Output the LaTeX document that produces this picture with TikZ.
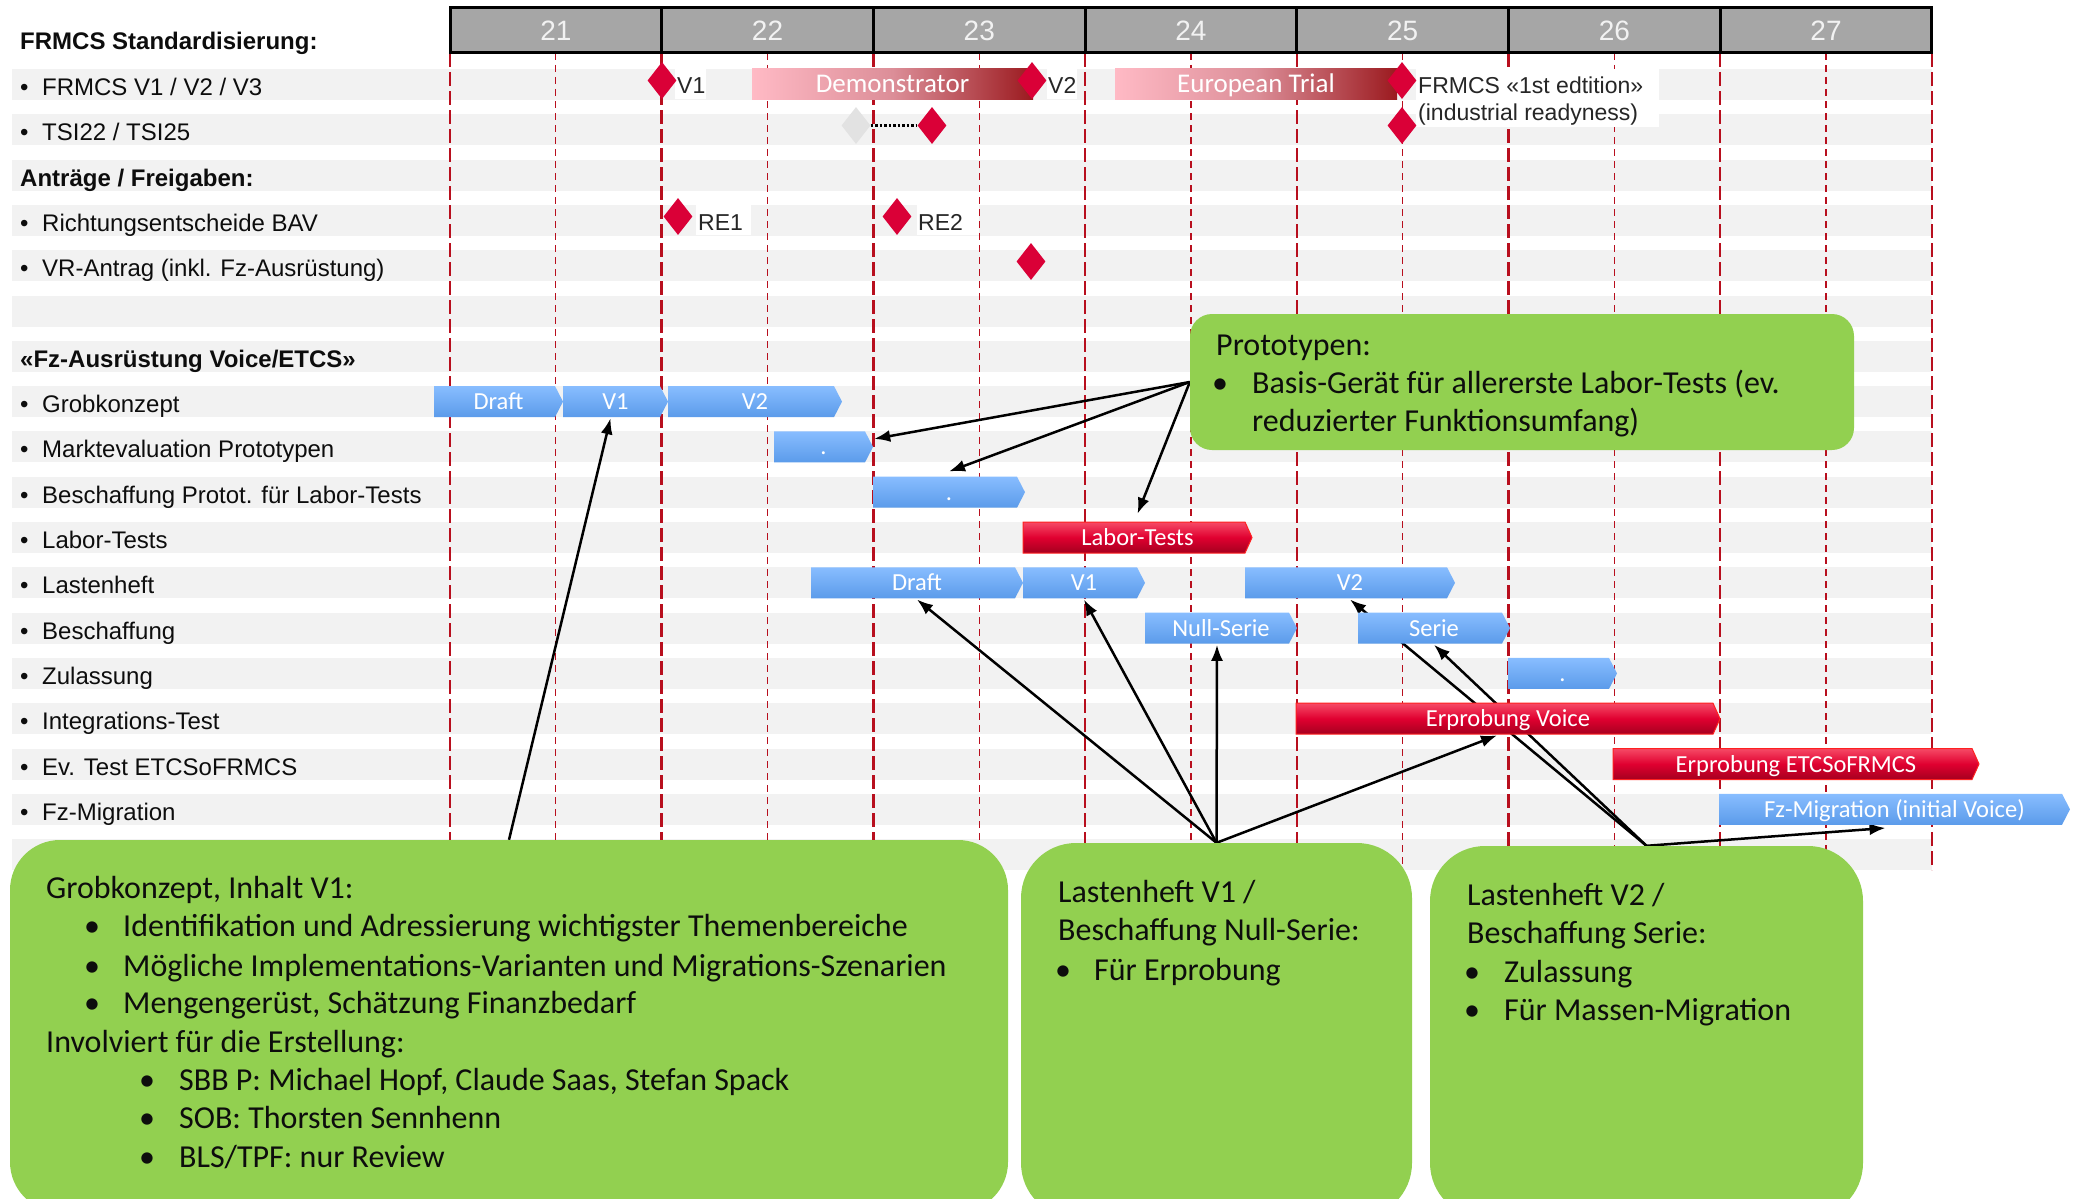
\documentclass[tikz,border=0pt]{standalone}
\usepackage{fontspec}
\setmainfont{Liberation Sans}
\newfontfamily\cfont{Carlito}
\usetikzlibrary{shapes.geometric,arrows.meta,calc}

\definecolor{band}{HTML}{F2F2F2}
\definecolor{hdr}{HTML}{A6A6A6}
\definecolor{hdrtext}{HTML}{F2F2F2}
\definecolor{msred}{HTML}{DA0037}
\definecolor{msgrey}{HTML}{E2E2E2}
\definecolor{yearline}{HTML}{B80F1E}
\definecolor{bluetop}{HTML}{88BDFF}
\definecolor{bluebot}{HTML}{5B9BEA}
\definecolor{redtop}{HTML}{F64A66}
\definecolor{redmid}{HTML}{E00030}
\definecolor{redbot}{HTML}{A5001F}
\definecolor{redrim}{HTML}{FF2020}
\definecolor{pinkl}{HTML}{FFBAC5}
\definecolor{pinkm}{HTML}{DC8E98}
\definecolor{darkr}{HTML}{9B1A1F}
\definecolor{note}{HTML}{92D050}
\definecolor{ink}{HTML}{0D0D0D}
\definecolor{lbl}{HTML}{262626}

\pgfdeclarelayer{base}
\pgfdeclarelayer{links}
\pgfsetlayers{base,links,main}

\tikzset{
  rowlabel/.style={anchor=base west, inner sep=0pt, font=\fontsize{24}{28}\selectfont, text=ink},
  rowtitle/.style={anchor=base west, inner sep=0pt, font=\bfseries\fontsize{24}{28}\selectfont, text=ink},
  mslabel/.style={anchor=base west, inner sep=0pt, font=\fontsize{23}{27}\selectfont, text=lbl},
  hdrcell/.style={draw=black, line width=3pt, fill=hdr, minimum width=211.7pt, minimum height=45pt,
    inner sep=0pt, text height=20pt, text depth=0pt, text=hdrtext, font=\fontsize{28}{32}\selectfont},
  yearthick/.style={draw=yearline, line width=2.5pt, dash pattern=on 14pt off 5pt},
  yearthin/.style={draw=yearline, line width=1.2pt, dash pattern=on 7pt off 5pt},
  bartext/.style={inner sep=0pt, minimum height=31pt, text height=16pt, text depth=0pt,
    text=white, font=\cfont\fontsize{24.5}{28}\selectfont},
  trialtext/.style={bartext, text height=17pt, font=\cfont\fontsize{27}{30}\selectfont},
  bluebar/.style={top color=bluetop, bottom color=bluebot},
  redbar/.style={top color=redtop, bottom color=redbot, middle color=redmid, draw=redrim, line width=1pt},
  trialbar/.style={left color=pinkl, right color=darkr, middle color=pinkm},
  milestone/.style={diamond, fill=#1, inner sep=0pt, minimum width=29pt, minimum height=37pt},
  milestone/.default=msred,
  notebox/.style={fill=note, draw=none},
  notetext/.style={anchor=base west, inner sep=0pt, font=\cfont\fontsize{32}{38}\selectfont, text=ink},
  notebullet/.style={anchor=base, inner sep=0pt, font=\cfont\fontsize{32}{38}\selectfont, text=ink},
  conn/.style={draw=black, line width=2.5pt, -{Latex[length=16pt,width=12pt]}},
}

% pentagon bar: style, name, left x, right x, top y, point depth, text
\newcommand\pbar[7]{%
  \path[#1] (#3,#5) -- ({#4-#6},#5) -- (#4,{#5+15.5}) -- ({#4-#6},{#5+31}) -- (#3,{#5+31}) -- cycle;
  \node[bartext, minimum width={#4-#3}] (#2) at ({(#3+#4)/2},{#5+15.5}) {#7};
}

\begin{document}
\begin{tikzpicture}[x=1pt,y=-1pt]
\useasboundingbox (0,0) rectangle (2078,1199);
\clip (0,0) rectangle (2078,1199);

\begin{pgfonlayer}{base}
% row bands
\foreach \i in {0,...,17}
  \fill[band] (12,{69+45.3*\i}) rectangle (1932,{100+45.3*\i});
% year and half-year lines
\foreach \k in {0,...,7}
  \draw[yearthick] ({450+211.7*\k},53) -- ({450+211.7*\k},870);
\foreach \k in {0,...,6}
  \draw[yearthin] ({555.85+211.7*\k},53) -- ({555.85+211.7*\k},870);
% year header
\foreach \k/\yr in {0/21,1/22,2/23,3/24,4/25,5/26,6/27}
  \node[hdrcell] (yr\yr) at ({555.85+211.7*\k},30.5) {\yr};
\end{pgfonlayer}

% row labels
\node[rowtitle] (t1) at (20,50) {FRMCS Standardisierung:};
\node[rowlabel] (r0) at (20,95.5) {\makebox[22pt][l]{•}FRMCS V1 / V2 / V3};
\node[rowlabel] (r1) at (20,140.8) {\makebox[22pt][l]{•}TSI22 / TSI25};
\node[rowtitle] (t2) at (20,186.1) {Anträge / Freigaben:};
\node[rowlabel] (r3) at (20,231.4) {\makebox[22pt][l]{•}Richtungsentscheide BAV};
\node[rowlabel] (r4) at (20,276.7) {\makebox[22pt][l]{•}VR-Antrag (inkl. Fz-Ausrüstung)};
\node[rowtitle] (t3) at (20,367.3) {«Fz-Ausrüstung Voice/ETCS»};
\node[rowlabel] (r7) at (20,412.6) {\makebox[22pt][l]{•}Grobkonzept};
\node[rowlabel] (r8) at (20,457.9) {\makebox[22pt][l]{•}Marktevaluation Prototypen};
\node[rowlabel] (r9) at (20,503.2) {\makebox[22pt][l]{•}Beschaffung Protot. für Labor-Tests};
\node[rowlabel] (r10) at (20,548.5) {\makebox[22pt][l]{•}Labor-Tests};
\node[rowlabel] (r11) at (20,593.8) {\makebox[22pt][l]{•}Lastenheft};
\node[rowlabel] (r12) at (20,639.1) {\makebox[22pt][l]{•}Beschaffung};
\node[rowlabel] (r13) at (20,684.4) {\makebox[22pt][l]{•}Zulassung};
\node[rowlabel] (r14) at (20,729.7) {\makebox[22pt][l]{•}Integrations-Test};
\node[rowlabel] (r15) at (20,775) {\makebox[22pt][l]{•}Ev. Test ETCSoFRMCS};
\node[rowlabel] (r16) at (20,820.3) {\makebox[22pt][l]{•}Fz-Migration};

% white label patches
\fill[white] (675,69) rectangle (706,99);
\fill[white] (1047,69) rectangle (1077,99);
\fill[white] (696,205) rectangle (751,235);
\fill[white] (917,205) rectangle (979,235);
\fill[white] (1416,69) rectangle (1659,127);
\node[mslabel] (lv1) at (677,93) {V1};
\node[mslabel] (lv2) at (1048,93) {V2};
\node[mslabel] (lre1) at (698,230) {RE1};
\node[mslabel] (lre2) at (918,230) {RE2};
\node[mslabel] (led1) at (1418,93) {FRMCS «1st edtition»};
\node[mslabel] (led2) at (1418,120) {(industrial readyness)};

% standardisation trials
\path[trialbar] (752,69) rectangle (1033,99);
\node[trialtext, minimum width=281pt] (demo) at (892.5,84) {Demonstrator};
\path[trialbar] (1115,69) rectangle (1397,99);
\node[trialtext, minimum width=282pt] (eut) at (1256,84) {European Trial};

% activity bars
\pbar{bluebar}{gdraft}{434}{563}{386.1}{8}{Draft}
\pbar{bluebar}{gv1}{563}{668}{386.1}{8}{V1}
\pbar{bluebar}{gv2}{668}{842}{386.1}{8}{V2}
\pbar{bluebar}{mk}{774}{873}{431.4}{8}{.}
\pbar{bluebar}{bp}{873}{1025}{476.7}{8}{.}
\pbar{redbar}{lt}{1023}{1252}{522}{7}{Labor-Tests}
\pbar{bluebar}{ldraft}{811}{1023}{567.3}{8}{Draft}
\pbar{bluebar}{lhv1}{1023}{1145}{567.3}{8}{V1}
\pbar{bluebar}{lhv2}{1245}{1455}{567.3}{8}{V2}
\pbar{bluebar}{ns}{1145}{1297}{612.6}{8}{Null-Serie}
\pbar{bluebar}{se}{1358}{1510}{612.6}{8}{Serie}
\pbar{bluebar}{zl}{1508}{1617}{657.9}{8}{.}
\pbar{redbar}{ev}{1296}{1720}{703.2}{7}{Erprobung Voice}
\pbar{redbar}{et}{1613}{1979}{748.5}{7}{Erprobung ETCSoFRMCS}
\pbar{bluebar}{fz}{1719}{2070}{793.8}{8}{Fz-Migration (initial Voice)}

% milestones
\node[milestone] (m1) at (662,80.5) {};
\node[milestone] (m2) at (1032,80.5) {};
\node[milestone] (m3) at (1402,80.5) {};
\node[milestone=msgrey] (tsiold) at (856,125.5) {};
\node[milestone] (tsi22) at (932,125.5) {};
\node[milestone] (tsi25) at (1402,125.5) {};
\node[milestone] (re1) at (678,216.5) {};
\node[milestone] (re2) at (897,216.5) {};
\node[milestone] (vr) at (1031,261.5) {};
\draw[black, line width=2.5pt, dash pattern=on 2.5pt off 2pt] (tsiold.east) -- (tsi22.west);

% note boxes
\node[notebox, rounded corners=22pt, minimum width=664pt, minimum height=136pt] (nproto) at (1522,382) {};
\node[notetext] (p1) at (1216,355) {Prototypen:};
\node[notebullet] (p2b) at (1220,393) {•};
\node[notetext] (p2) at (1252,393) {Basis-Gerät für allererste Labor-Tests (ev.};
\node[notetext] (p3) at (1252,431) {reduzierter Funktionsumfang)};

\node[notebox, rounded corners=50pt, minimum width=998pt, minimum height=372pt] (ngk) at (509,1026) {};
\node[notetext] (g1) at (46,898) {Grobkonzept, Inhalt V1:};
\node[notebullet] (g2b) at (92,936) {•};
\node[notetext] (g2) at (123,936) {Identifikation und Adressierung wichtigster Themenbereiche};
\node[notebullet] (g3b) at (92,976) {•};
\node[notetext] (g3) at (123,976) {Mögliche Implementations-Varianten und Migrations-Szenarien};
\node[notebullet] (g4b) at (92,1013) {•};
\node[notetext] (g4) at (123,1013) {Mengengerüst, Schätzung Finanzbedarf};
\node[notetext] (g5) at (46,1052) {Involviert für die Erstellung:};
\node[notebullet] (g6b) at (147,1090) {•};
\node[notetext] (g6) at (179,1090) {SBB P: Michael Hopf, Claude Saas, Stefan Spack};
\node[notebullet] (g7b) at (147,1128) {•};
\node[notetext] (g7) at (179,1128) {SOB: Thorsten Sennhenn};
\node[notebullet] (g8b) at (147,1167) {•};
\node[notetext] (g8) at (179,1167) {BLS/TPF: nur Review};

\node[notebox, rounded corners=55pt, minimum width=391pt, minimum height=375pt] (nlv1) at (1216.5,1030.5) {};
\node[notetext] (a1) at (1058,902) {Lastenheft V1 /};
\node[notetext] (a2) at (1058,940) {Beschaffung Null-Serie:};
\node[notebullet] (a3b) at (1063,980) {•};
\node[notetext] (a3) at (1094,980) {Für Erprobung};

\node[notebox, rounded corners=55pt, minimum width=433pt, minimum height=372pt] (nlv2) at (1646.5,1032) {};
\node[notetext] (b1) at (1467,905) {Lastenheft V2 /};
\node[notetext] (b2) at (1467,943) {Beschaffung Serie:};
\node[notebullet] (b3b) at (1472,982) {•};
\node[notetext] (b3) at (1504,982) {Zulassung};
\node[notebullet] (b4b) at (1472,1020) {•};
\node[notetext] (b4) at (1504,1020) {Für Massen-Migration};

% connectors, beneath the bars
\begin{pgfonlayer}{links}
\draw[conn] (nproto.west) -- ($(mk.east)+(1,-8)$);
\draw[conn] (nproto.west) -- ($(bp.north)+(0,-5)$);
\draw[conn] (nproto.west) -- ($(lt.north)+(0,-8)$);
\draw[conn] (ngk.north) -- ($(gv1.south)+(-5,1)$);
\draw[conn] (nlv1.north) -- ($(ldraft.south)+(0,1)$);
\draw[conn] (nlv1.north) -- ($(lhv1.south)+(0,1)$);
\draw[conn] (nlv1.north) -- ($(ns.south)+(-4,1)$);
\draw[conn] (nlv1.north) -- ($(ev.south)+(-11,1)$);
\draw[conn] (nlv2.north) -- ($(lhv2.south)+(0,1)$);
\draw[conn] (nlv2.north) -- ($(se.south)+(0,1)$);
\draw[conn] (nlv2.north) -- ($(fz.south)+(-9,3)$);
\end{pgfonlayer}
\end{tikzpicture}
\end{document}
